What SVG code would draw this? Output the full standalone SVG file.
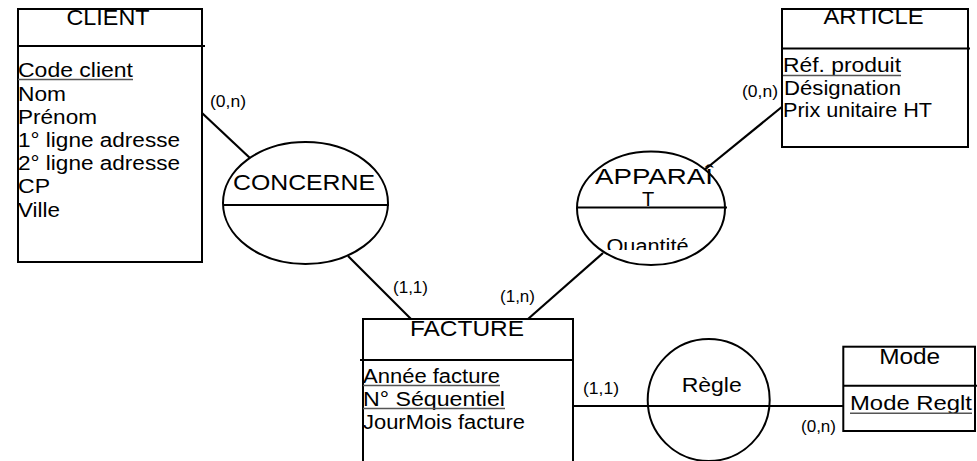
<svg xmlns="http://www.w3.org/2000/svg" width="977" height="461" viewBox="0 0 977 461">
  <style>
    .box{fill:#fff;stroke:#000;stroke-width:2}
    .sep{stroke:#000;stroke-width:2}
    .rel{fill:#fff;stroke:#000;stroke-width:2}
    .t{font-family:"Liberation Sans",Arial,Helvetica,sans-serif;font-size:20px;fill:#000}
    .h{font-size:22px}
    .mid{text-anchor:middle}
    .card{font-family:"Liberation Sans",Arial,Helvetica,sans-serif;font-size:16px;fill:#000}
    .key{stroke:#555;stroke-width:1.4}
    .link{stroke:#000;stroke-width:2.2;fill:none}
    .thin{stroke:#000;stroke-width:1.8;fill:none}
  </style>
  <defs>
    <clipPath id="qtyClip">
      <rect x="577" y="208" width="150" height="42"/>
    </clipPath>
  </defs>
  <rect width="977" height="461" fill="#fff"/>

  <!-- connectors -->
  <g id="connectors">
    <line class="link" x1="202" y1="113" x2="251" y2="159"/>
    <line class="link" x1="348" y1="256" x2="411" y2="319"/>
    <line class="link" x1="705" y1="169.5" x2="783" y2="106"/>
    <line class="link" x1="603" y1="253" x2="528" y2="319"/>
    <line class="thin" x1="573" y1="406" x2="843" y2="406"/>
  </g>

  <!-- entity CLIENT -->
  <g id="client">
    <rect class="box" x="18" y="9" width="184" height="253"/>
    <line class="sep" x1="18" y1="46" x2="205" y2="46"/>
    <text class="t h mid" x="108" y="25" textLength="83" lengthAdjust="spacingAndGlyphs">CLIENT</text>
    <text class="t" x="18" y="77" textLength="115" lengthAdjust="spacingAndGlyphs">Code client</text>
    <line class="key" x1="18" y1="79.5" x2="133" y2="79.5"/>
    <text class="t" x="18" y="100.5" textLength="48" lengthAdjust="spacingAndGlyphs">Nom</text>
    <text class="t" x="18" y="123.7" textLength="79" lengthAdjust="spacingAndGlyphs">Prénom</text>
    <text class="t" x="18" y="146.9" textLength="162" lengthAdjust="spacingAndGlyphs">1° ligne adresse</text>
    <text class="t" x="18" y="170.1" textLength="162" lengthAdjust="spacingAndGlyphs">2° ligne adresse</text>
    <text class="t" x="18" y="193.3" textLength="32" lengthAdjust="spacingAndGlyphs">CP</text>
    <text class="t" x="18" y="216.5" textLength="42" lengthAdjust="spacingAndGlyphs">Ville</text>
  </g>

  <!-- relationship CONCERNE -->
  <g id="concerne">
    <ellipse class="rel" cx="305.5" cy="203" rx="82.5" ry="61"/>
    <line class="sep" x1="223" y1="205" x2="389" y2="205"/>
    <text class="t h mid" x="304" y="190" textLength="142" lengthAdjust="spacingAndGlyphs">CONCERNE</text>
  </g>

  <!-- relationship APPARAÎT (name wrapped over two lines) -->
  <g id="apparait">
    <ellipse class="rel" cx="651" cy="208.3" rx="74" ry="56.7"/>
    <line class="sep" x1="577" y1="207.5" x2="727" y2="207.5"/>
    <text class="t h mid" x="654" y="183.5" textLength="118" lengthAdjust="spacingAndGlyphs">APPARAÎ</text>
    <text class="t mid" x="648" y="206">T</text>
    <text class="t mid" x="647.5" y="252.6" textLength="82" lengthAdjust="spacingAndGlyphs" clip-path="url(#qtyClip)">Quantité</text>
  </g>

  <!-- entity ARTICLE -->
  <g id="article">
    <rect class="box" x="782" y="9" width="186" height="138"/>
    <line class="sep" x1="782" y1="48.5" x2="970" y2="48.5"/>
    <text class="t h mid" x="873.5" y="24" textLength="100" lengthAdjust="spacingAndGlyphs">ARTICLE</text>
    <text class="t" x="783" y="71.7" textLength="118" lengthAdjust="spacingAndGlyphs">Réf. produit</text>
    <line class="key" x1="783" y1="75.5" x2="901" y2="75.5"/>
    <text class="t" x="784" y="94.5" textLength="117" lengthAdjust="spacingAndGlyphs">Désignation</text>
    <text class="t" x="783" y="117" textLength="149" lengthAdjust="spacingAndGlyphs">Prix unitaire HT</text>
  </g>

  <!-- entity FACTURE -->
  <g id="facture">
    <rect class="box" x="363" y="319" width="210" height="160"/>
    <line class="sep" x1="360" y1="360" x2="573" y2="360"/>
    <text class="t h mid" x="467" y="335.5" textLength="114" lengthAdjust="spacingAndGlyphs">FACTURE</text>
    <text class="t" x="363" y="383" textLength="137" lengthAdjust="spacingAndGlyphs">Année facture</text>
    <line class="key" x1="363" y1="385.5" x2="500" y2="385.5"/>
    <text class="t" x="363" y="406" textLength="142" lengthAdjust="spacingAndGlyphs">N° Séquentiel</text>
    <line class="key" x1="363" y1="408.5" x2="505" y2="408.5"/>
    <text class="t" x="363" y="429" textLength="162" lengthAdjust="spacingAndGlyphs">JourMois facture</text>
  </g>

  <!-- relationship Règle -->
  <g id="regle">
    <circle cx="708.7" cy="400" r="61" fill="none" stroke="#000" stroke-width="2"/>
    <text class="t mid" x="711.7" y="391.7" textLength="60" lengthAdjust="spacingAndGlyphs" style="font-size:21px">Règle</text>
  </g>

  <!-- entity Mode -->
  <g id="mode">
    <rect class="box" x="843.3" y="346.7" width="131.7" height="84.3"/>
    <line class="sep" x1="843" y1="385.7" x2="977" y2="385.7"/>
    <text class="t h mid" x="909.7" y="364" textLength="61" lengthAdjust="spacingAndGlyphs">Mode</text>
    <text class="t" x="850" y="410" textLength="122" lengthAdjust="spacingAndGlyphs" style="font-size:21px">Mode Reglt</text>
    <line class="key" x1="850" y1="413.3" x2="972" y2="413.3"/>
  </g>

  <!-- cardinalities -->
  <g id="cardinalities">
    <text class="card" x="210" y="106.5" textLength="36" lengthAdjust="spacingAndGlyphs">(0,n)</text>
    <text class="card" x="393" y="293.3" textLength="35" lengthAdjust="spacingAndGlyphs">(1,1)</text>
    <text class="card" x="500" y="301.7" textLength="35" lengthAdjust="spacingAndGlyphs">(1,n)</text>
    <text class="card" x="742" y="96.7" textLength="36" lengthAdjust="spacingAndGlyphs">(0,n)</text>
    <text class="card" x="583" y="394" textLength="36" lengthAdjust="spacingAndGlyphs">(1,1)</text>
    <text class="card" x="801" y="431.7" textLength="35" lengthAdjust="spacingAndGlyphs">(0,n)</text>
  </g>
</svg>
